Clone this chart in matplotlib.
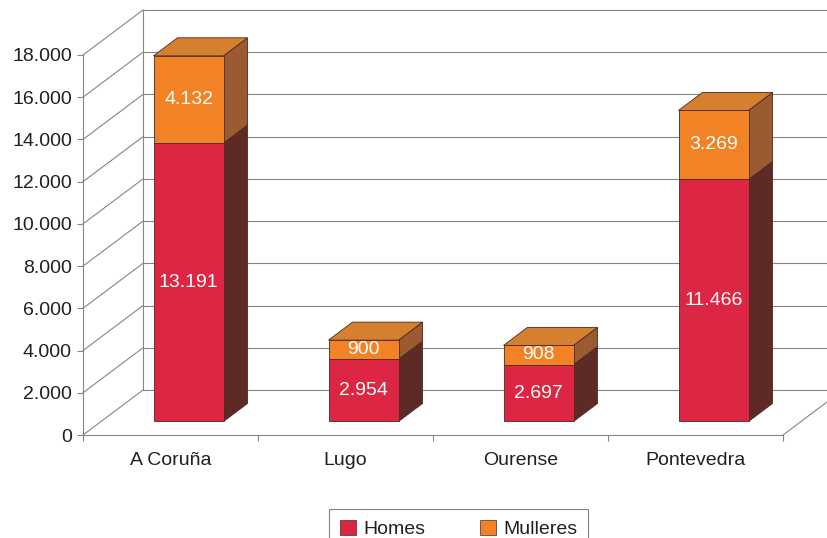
import matplotlib
matplotlib.use('Agg')
import matplotlib.pyplot as plt
from matplotlib.patches import Polygon, Patch

# data
provincias = ['A Coruña', 'Lugo', 'Ourense', 'Pontevedra']
homes = [13191, 2954, 2697, 11466]
mulleres = [4132, 900, 908, 3269]
series = [('Homes', homes), ('Mulleres', mulleres)]
yticks = list(range(0, 18001, 2000))

plt.rcParams['font.family'] = ['Liberation Sans', 'DejaVu Sans']

front = {'Homes': '#dc2644', 'Mulleres': '#f28226'}
side = {'Homes': '#5e2a26', 'Mulleres': '#9a5b32'}
top = {'Homes': '#b02038', 'Mulleres': '#d4802e'}
edge = '#4a2a22'
grid_c = '#858585'
txt_c = '#231f20'
fs = 14


def fmt(v):
    """thousands with a dot, as in galician/spanish"""
    return f'{v:,.0f}'.replace(',', '.')


fig = plt.figure(figsize=(8.27, 5.38), dpi=100)
ax = fig.add_axes([83 / 827, 103 / 538, 700 / 827, 380 / 538])  # front plane of the 3d box
ax.set_xlim(0, len(provincias))
ax.set_ylim(0, yticks[-1])
ax.patch.set_visible(False)

# fake depth: offset of the back wall in data units
DX = 0.343
DY = 2132
d0, d1 = 0.3, 0.7  # bars sit between these depth fractions
w = 0.4
nx = len(provincias)

# walls and gridlines
for v in yticks:
    ax.plot([0, DX], [v, v + DY], color=grid_c, lw=0.8, clip_on=False, zorder=1)
    ax.plot([DX, nx + DX], [v + DY, v + DY], color=grid_c, lw=0.8, clip_on=False, zorder=1)
ax.plot([DX, DX], [DY, yticks[-1] + DY], color=grid_c, lw=0.8, clip_on=False, zorder=1)
ax.plot([nx, nx + DX], [0, DY], color=grid_c, lw=0.8, clip_on=False, zorder=1)

# bars
ddx = (d1 - d0) * DX
ddy = (d1 - d0) * DY
for i in range(nx):
    base = 0
    for k, (lab, vals) in enumerate(series):
        v = vals[i]
        x0 = i + 0.5 - w / 2 + d0 * DX
        x1 = x0 + w
        yb = base + d0 * DY
        yt = base + v + d0 * DY
        ax.add_patch(Polygon([(x1, yb), (x1 + ddx, yb + ddy), (x1 + ddx, yt + ddy), (x1, yt)],
                             closed=True, fc=side[lab], ec=edge, lw=0.6, clip_on=False, zorder=3))
        ax.add_patch(Polygon([(x0, yb), (x1, yb), (x1, yt), (x0, yt)],
                             closed=True, fc=front[lab], ec=edge, lw=0.6, clip_on=False, zorder=4))
        if k == len(series) - 1:
            ax.add_patch(Polygon([(x0, yt), (x1, yt), (x1 + ddx, yt + ddy), (x0 + ddx, yt + ddy)],
                                 closed=True, fc=top[lab], ec=edge, lw=0.6, clip_on=False, zorder=4))
        ax.text((x0 + x1) / 2, (yb + yt) / 2, fmt(v), color='white', fontsize=fs,
                ha='center', va='center', zorder=5)
        base += v

# axes
for s in ['top', 'right']:
    ax.spines[s].set_visible(False)
for s in ['left', 'bottom']:
    ax.spines[s].set_color(grid_c)
    ax.spines[s].set_linewidth(0.8)
ax.set_yticks(yticks)
ax.set_yticklabels([fmt(v) for v in yticks])
ax.tick_params(axis='y', length=4, width=0.8, color=grid_c, pad=4, labelsize=fs, labelcolor=txt_c)
ax.set_xticks(range(nx + 1))
ax.set_xticklabels([])
ax.set_xticks([i + 0.5 for i in range(nx)], minor=True)
ax.set_xticklabels(provincias, minor=True)
ax.tick_params(axis='x', which='major', length=4.5, width=0.8, color=grid_c)
ax.tick_params(axis='x', which='minor', length=0, pad=12.5, labelsize=fs, labelcolor=txt_c)

handles = [Patch(facecolor=front[lab], edgecolor=edge, lw=0.5) for lab, _ in series]
leg = fig.legend(handles, [lab for lab, _ in series], loc='upper center',
                 bbox_to_anchor=(458.5 / 827, 1 - 509 / 538), ncol=2, frameon=True,
                 fancybox=False, edgecolor='#808080', framealpha=1, fontsize=fs,
                 handlelength=0.85, handleheight=0.85, handletextpad=0.35,
                 columnspacing=2.8, borderpad=0.55, borderaxespad=0)
leg.get_frame().set_linewidth(0.8)
for t in leg.get_texts():
    t.set_color(txt_c)

fig.savefig('out.png', dpi=100)
